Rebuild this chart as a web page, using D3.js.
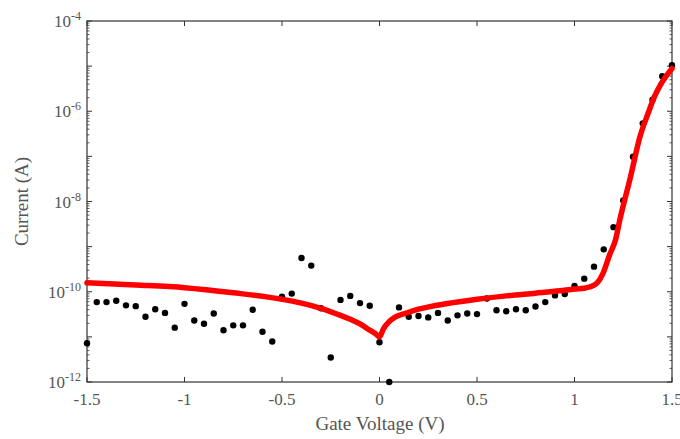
<!DOCTYPE html>
<html><head><meta charset="utf-8">
<script src="https://cdn.jsdelivr.net/npm/d3@7"></script>
<style>body{margin:0;background:#fff}svg{display:block}</style>
</head><body><svg id="c" width="680" height="439"></svg>
<script>
// measured points (gate voltage V, current A)
const measV = [-1.50,-1.45,-1.40,-1.35,-1.30,-1.25,-1.20,-1.15,-1.10,-1.05,-1.00,-0.95,-0.90,-0.85,-0.80,-0.75,-0.70,-0.65,-0.60,-0.55,-0.50,-0.45,-0.40,-0.35,-0.30,-0.25,-0.20,-0.15,-0.10,-0.05,0.00,0.05,0.10,0.15,0.20,0.25,0.30,0.35,0.40,0.45,0.50,0.55,0.60,0.65,0.70,0.75,0.80,0.85,0.90,0.95,1.00,1.05,1.10,1.15,1.20,1.25,1.30,1.35,1.40,1.45,1.50];
const measI = [7.2e-12,5.9e-11,5.9e-11,6.3e-11,5.0e-11,4.8e-11,2.8e-11,4.1e-11,3.4e-11,1.6e-11,5.4e-11,2.3e-11,1.95e-11,3.3e-11,1.4e-11,1.8e-11,1.8e-11,4.0e-11,1.3e-11,7.9e-12,7.8e-11,9.1e-11,5.6e-10,3.8e-10,4.3e-11,3.5e-12,6.6e-11,8.1e-11,5.6e-11,4.9e-11,7.6e-12,1.0e-12,4.5e-11,2.8e-11,2.9e-11,2.7e-11,3.4e-11,2.3e-11,3.0e-11,3.3e-11,3.2e-11,7.1e-11,3.9e-11,3.7e-11,4.1e-11,3.9e-11,4.7e-11,5.9e-11,8.3e-11,8.9e-11,1.35e-10,1.95e-10,3.6e-10,8.7e-10,2.7e-9,1.05e-8,9.8e-8,5.4e-7,1.8e-6,6.0e-6,1.05e-5];
// model curve (gate voltage V, current A)
const fitV = [-1.50,-1.25,-1.00,-0.75,-0.50,-0.40,-0.30,-0.20,-0.15,-0.10,-0.05,-0.02,0.00,0.02,0.05,0.08,0.13,0.20,0.35,0.50,0.65,0.80,0.925,1.00,1.05,1.08,1.115,1.145,1.18,1.21,1.233,1.285,1.336,1.377,1.41,1.44,1.50];
const fitI = [1.58e-10,1.41e-10,1.23e-10,9.5e-11,6.8e-11,5.6e-11,4.3e-11,3.0e-11,2.45e-11,1.95e-11,1.41e-11,1.17e-11,1.0e-11,1.51e-11,2.19e-11,2.75e-11,3.3e-11,4.1e-11,5.5e-11,6.8e-11,8.1e-11,9.3e-11,1.05e-10,1.15e-10,1.2e-10,1.29e-10,1.55e-10,2.5e-10,6.6e-10,1.4e-9,4.0e-9,3.2e-8,2.75e-7,8.9e-7,2.1e-6,3.8e-6,8.9e-6];
const xTicks = [-1.5,-1,-0.5,0,0.5,1,1.5];
const xTickLabels = ["-1.5","-1","-0.5","0","0.5","1","1.5"];
const yTickExp = [-4,-6,-8,-10,-12];

const svg = d3.select("#c");
const L=87,R=672,T=21,B=382;
const x = d3.scaleLinear().domain([-1.5,1.5]).range([L,R]);
const y = d3.scaleLog().domain([1e-12,1e-4]).range([B,T]);
const font = "'Liberation Serif', 'DejaVu Serif', serif";
const txt = "#555";
const axCol = "#333";

const yMinor = [], yDec = [];
for (let e=-12;e<-4;e++){ yDec.push(Math.pow(10,e)); for(let m=2;m<10;m++) yMinor.push(m*Math.pow(10,e)); }
yDec.push(1e-4);

const g = svg.append("g");
g.append("rect").attr("x",L).attr("y",T).attr("width",R-L).attr("height",B-T)
 .attr("fill","none").attr("stroke",axCol).attr("stroke-width",1.2);

xTicks.forEach(v=>{
  g.append("line").attr("x1",x(v)).attr("x2",x(v)).attr("y1",B).attr("y2",B-5).attr("stroke",axCol);
  g.append("line").attr("x1",x(v)).attr("x2",x(v)).attr("y1",T).attr("y2",T+5).attr("stroke",axCol);
});
yDec.forEach(v=>{
  [[L,L+5],[R,R-5]].forEach(([a,b])=>g.append("line").attr("x1",a).attr("x2",b).attr("y1",y(v)).attr("y2",y(v)).attr("stroke",axCol));
});
yMinor.forEach(v=>{
  [[L,L+2.5],[R,R-2.5]].forEach(([a,b])=>g.append("line").attr("x1",a).attr("x2",b).attr("y1",y(v)).attr("y2",y(v)).attr("stroke",axCol).attr("stroke-width",0.8));
});

xTicks.forEach((v,i)=>{
  g.append("text").attr("x",x(v)).attr("y",405).attr("text-anchor","middle")
   .attr("font-family",font).attr("font-size",17).attr("fill",txt).text(xTickLabels[i]);
});
yTickExp.forEach(e=>{
  const t = g.append("text").attr("x",L-6).attr("y",y(Math.pow(10,e))+6).attr("text-anchor","end")
   .attr("font-family",font).attr("font-size",17).attr("fill",txt);
  t.append("tspan").text("10");
  t.append("tspan").attr("dy",-7).attr("font-size",12).text(String(e));
});

g.append("text").attr("x",(L+R)/2+0.5).attr("y",430).attr("text-anchor","middle")
 .attr("font-family",font).attr("font-size",19).attr("fill",txt).text("Gate Voltage (V)");
g.append("text").attr("transform",`translate(28,${(T+B)/2}) rotate(-90)`).attr("text-anchor","middle")
 .attr("font-family",font).attr("font-size",19).attr("fill",txt).text("Current (A)");

g.selectAll("circle.m").data(measV.map((v,i)=>[v,measI[i]])).enter().append("circle")
 .attr("cx",d=>x(d[0])).attr("cy",d=>y(d[1])).attr("r",3.2).attr("fill","#000");

const line = d3.line().x(d=>x(d[0])).y(d=>y(d[1])).curve(d3.curveMonotoneX);
g.append("path").datum(fitV.map((v,i)=>[v,fitI[i]])).attr("d",line)
 .attr("fill","none").attr("stroke","#ff0000").attr("stroke-width",5.5).attr("stroke-linejoin","round").attr("stroke-linecap","round");
</script></body></html>
